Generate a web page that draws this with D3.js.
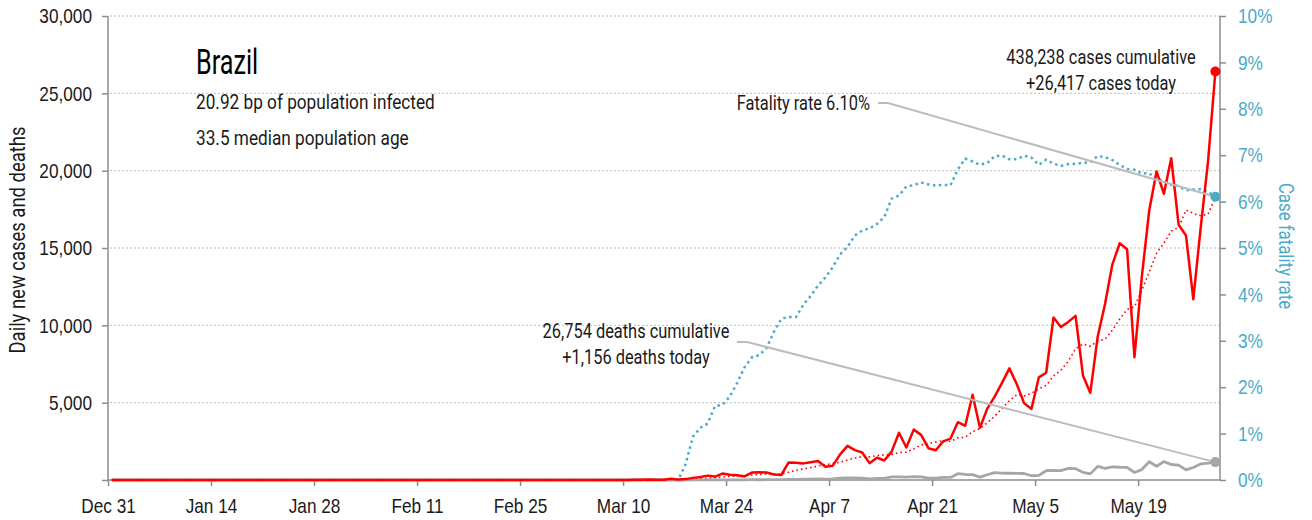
<!DOCTYPE html>
<html><head><meta charset="utf-8">
<script src="https://cdn.jsdelivr.net/npm/d3@7"></script>
<style>
html,body{margin:0;padding:0;background:#fff;}
svg{display:block;font-family:Roboto,"Liberation Sans",sans-serif;}
</style></head>
<body>
<svg id="chart" width="1312" height="520"></svg>
<script>
// ---- data (daily values from Dec 31, 2019 to May 29, 2020) ----
const startDate = "2019-12-31";
const dailyCases = [
0,0,0,0,0,0,0,0,0,0, 0,0,0,0,0,0,0,0,0,0, 0,0,0,0,0,0,0,0,0,0,
0,0,0,0,0,0,0,0,0,0, 0,0,0,0,0,0,0,0,0,0, 0,0,0,0,0,0,0,0,
1,0,0,1,0,0,0,1,5,5,6,6,0,9,18,25,21,23,79,34,57,137,193,283,224,418,345,310,232,482,502,487,352,323,
1138,1119,1074,1146,1222,852,926,1661,2210,1930,1781,1089,1442,1261,1832,3058,2105,3257,2917,2055,1927,2498,2678,3735,3503,5514,3379,4613,5385,6276,
7218,6209,4970,4588,6633,6935,10503,9888,10222,10611,6760,5632,9258,11385,13944,15305,14919,7938,13140,17408,19951,18508,20803,16508,15813,11687,16324,20599,26417
];
const dailyDeaths = [
0,0,0,0,0,0,0,0,0,0, 0,0,0,0,0,0,0,0,0,0, 0,0,0,0,0,0,0,0,0,0,
0,0,0,0,0,0,0,0,0,0, 0,0,0,0,0,0,0,0,0,0, 0,0,0,0,0,0,0,0,0,0,
0,0,0,0,0,0,0,0,0,0, 0,0,0,0,0,0,0,0,
1,3,3,4,7,7,9,12,13,18,15,19,25,23,
42,39,59,60,72,55,67,114,133,141,115,68,99,105,204,204,188,217,206,115,113,166,165,407,357,346,189,338,474,449,
435,428,421,275,296,600,615,610,751,730,496,396,881,749,844,824,816,485,674,1179,888,1188,1001,965,653,807,1039,1086,1156
];
const xTickDates = ["2019-12-31","2020-01-14","2020-01-28","2020-02-11","2020-02-25","2020-03-10","2020-03-24","2020-04-07","2020-04-21","2020-05-05","2020-05-19"];
const yLeftTicks = [0,5000,10000,15000,20000,25000,30000];
const yRightTicks = [0,0.01,0.02,0.03,0.04,0.05,0.06,0.07,0.08,0.09,0.10];
const titleText = "Brazil";
const infoLines = ["20.92 bp of population infected","33.5 median population age"];
const caseNote = ["438,238 cases cumulative","+26,417 cases today"];
const deathNote = ["26,754 deaths cumulative","+1,156 deaths today"];
const cfrNote = "Fatality rate 6.10%";
const leftTitle = "Daily new cases and deaths";
const rightTitle = "Case fatality rate";

// ---- derived series ----
const parse = d3.utcParse("%Y-%m-%d");
const t0 = parse(startDate);
const rows = dailyCases.map((c,i)=>({date:d3.utcHour.offset(d3.utcDay.offset(t0,i),12), cases:c, deaths:dailyDeaths[i]}));
let cc=0, cd=0;
rows.forEach((r,i)=>{
  cc+=r.cases; cd+=r.deaths;
  r.cfr = cc>0 ? cd/cc : 0;
  const w = rows.slice(Math.max(0,i-6), i+1);
  r.avg = d3.mean(w, d=>d.cases);
});

// ---- layout ----
const svg = d3.select("#chart");
const L=108, R=1220, T=16, B=480;
const SX = 0.82; // horizontal condensing of text
const x = d3.scaleUtc().domain([t0, d3.utcHour.offset(parse("2020-05-30"),3.5)]).range([L,R]);
const y = d3.scaleLinear().domain([0,30000]).range([B,T]);
const y2 = d3.scaleLinear().domain([0,0.10]).range([B,T]);
const blue="#4aabc8", red="#ff0000", grey="#a6a6a6", axisCol="#8c8c8c", ink="#1a1a1a";

function condense(sel, s, extra){
  sel.each(function(){
    const el = d3.select(this);
    const tx = +el.attr("x")||0, ty = +el.attr("y")||0;
    el.attr("x",0).attr("y",0).attr("transform",`translate(${tx},${ty})${extra||""} scale(${s},1)`);
  });
}
function label(str, xx, yy, size, anchor, color, s){
  const t = svg.append("text").attr("x",xx).attr("y",yy).attr("font-size",size)
    .attr("text-anchor",anchor).attr("fill",color).text(str);
  condense(t, s||SX);
  return t;
}

// gridlines
svg.append("g").selectAll("line").data(yLeftTicks.filter(d=>d>0)).join("line")
  .attr("x1",L+2).attr("x2",R).attr("y1",d=>y(d)).attr("y2",d=>y(d))
  .attr("stroke","#bdbdbd").attr("stroke-width",1).attr("stroke-dasharray","2,2");

// left axis
const gl = svg.append("g").attr("transform",`translate(${L},0)`)
  .call(d3.axisLeft(y).tickValues(yLeftTicks).tickSize(6).tickPadding(10).tickFormat(d=>d===0?"":d3.format(",")(d)));
gl.select(".domain").attr("stroke",axisCol).attr("stroke-width",1.5).attr("d",`M0,${T}V${B}`);
gl.selectAll(".tick line").attr("stroke",axisCol).attr("stroke-width",1.5);
gl.selectAll("text").attr("font-size",21).attr("fill",ink).attr("font-family","inherit");
condense(gl.selectAll("text"), SX);

// right axis
const gr = svg.append("g").attr("transform",`translate(${R},0)`)
  .call(d3.axisRight(y2).tickValues(yRightTicks).tickSize(6).tickPadding(12).tickFormat(d3.format(".0%")));
gr.select(".domain").attr("stroke",axisCol).attr("stroke-width",1.5).attr("d",`M0,${T}V${B}`);
gr.selectAll(".tick line").attr("stroke",axisCol).attr("stroke-width",1.5);
gr.selectAll("text").attr("font-size",21).attr("fill",blue).attr("font-family","inherit");
condense(gr.selectAll("text"), SX);

// bottom axis
const gb = svg.append("g").attr("transform",`translate(0,${B})`)
  .call(d3.axisBottom(x).tickValues(xTickDates.map(parse)).tickSize(6).tickPadding(12).tickFormat(d3.utcFormat("%b %-d")));
gb.select(".domain").attr("stroke",axisCol).attr("stroke-width",1.5).attr("d",`M${L},0H${R}`);
gb.selectAll(".tick line").attr("stroke",axisCol).attr("stroke-width",1.5);
gb.selectAll("text").attr("font-size",21).attr("fill",ink).attr("font-family","inherit");
condense(gb.selectAll("text"), SX);

// axis titles
svg.append("text").attr("font-size",22.5).attr("fill",ink).attr("text-anchor","middle")
  .attr("transform",`translate(25,240) rotate(-90) scale(${SX},1)`).text(leftTitle);
svg.append("text").attr("font-size",20.5).attr("fill",blue).attr("text-anchor","middle")
  .attr("transform",`translate(1279,246) rotate(90) scale(${SX},1)`).text(rightTitle);

// series
const line = (acc, sc)=>d3.line().x(d=>x(d.date)).y(d=>sc(acc(d)));
svg.append("path").datum(rows).attr("d",line(d=>d.cfr,y2)).attr("fill","none")
  .attr("stroke",blue).attr("stroke-width",2.5).attr("stroke-dasharray","2.5,3.5");
svg.append("path").datum(rows).attr("d",line(d=>d.avg,y)).attr("fill","none")
  .attr("stroke",red).attr("stroke-width",1.6).attr("stroke-dasharray","1.6,3");
svg.append("path").datum(rows).attr("d",line(d=>d.deaths,y)).attr("fill","none")
  .attr("stroke",grey).attr("stroke-width",2.8).attr("stroke-linejoin","round");
svg.append("path").datum(rows).attr("d",line(d=>d.cases,y)).attr("fill","none")
  .attr("stroke",red).attr("stroke-width",2.5).attr("stroke-linejoin","round");

const last = rows[rows.length-1];
const lx = x(last.date);

// annotations
label(titleText,196,74,36,"start","#000",0.70);
infoLines.forEach((s,i)=>label(s,196,109+i*36,21,"start",ink));
caseNote.forEach((s,i)=>label(s,1101,64+i*26,20,"middle",ink));
deathNote.forEach((s,i)=>label(s,636,338+i*26,20,"middle",ink));
label(cfrNote,870,110,20,"end",ink);

svg.append("path").attr("d",`M878,103H888L${lx},${y2(last.cfr)}`).attr("fill","none").attr("stroke","#bcbcbc").attr("stroke-width",2);
svg.append("path").attr("d",`M737,342H747L${lx},${y(last.deaths)}`).attr("fill","none").attr("stroke","#bcbcbc").attr("stroke-width",2);

svg.append("circle").attr("cx",lx).attr("cy",y(last.cases)).attr("r",5).attr("fill",red);
svg.append("circle").attr("cx",lx).attr("cy",y2(last.cfr)).attr("r",5).attr("fill",blue);
svg.append("circle").attr("cx",lx).attr("cy",y(last.deaths)).attr("r",5).attr("fill",grey);
</script>
</body></html>
